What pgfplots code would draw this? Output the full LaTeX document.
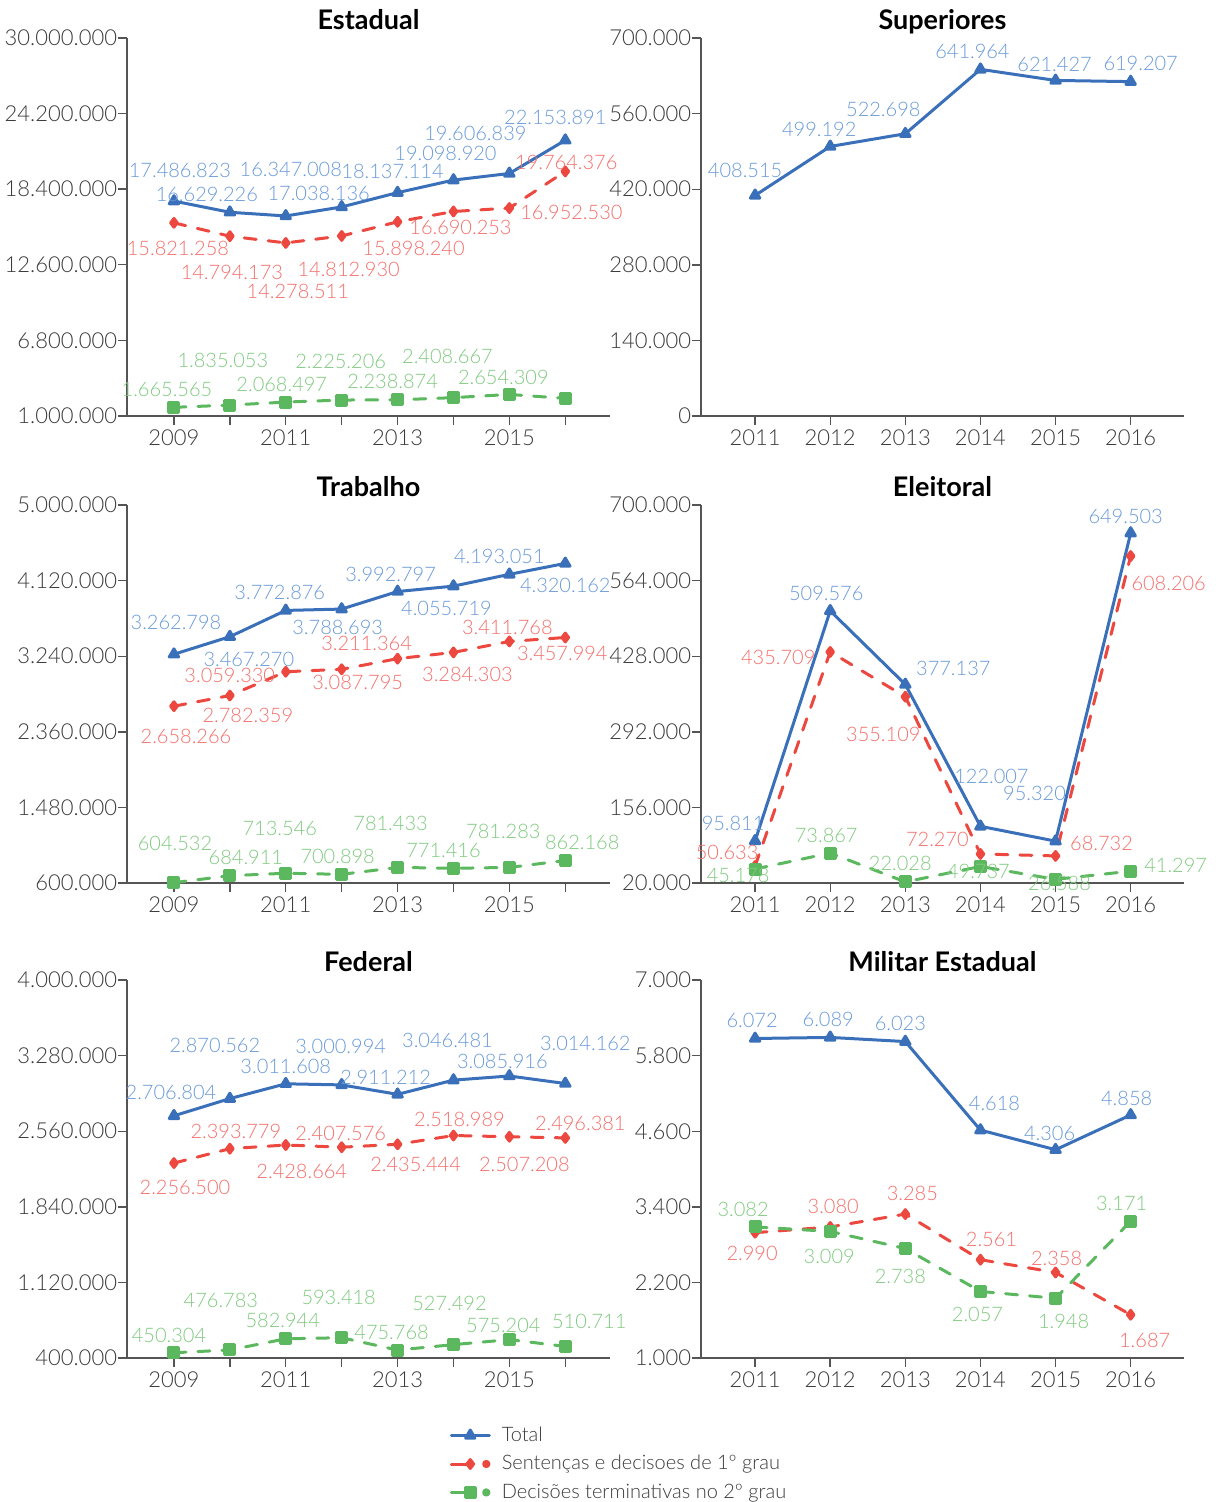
\documentclass[border=0pt]{standalone}
\usepackage{fontspec}
\setmainfont{Lato}[UprightFont={* Light},BoldFont={* Bold}]
\usepackage{pgfplots}
\pgfplotsset{compat=1.18}

\definecolor{blueD}{HTML}{3A70B9}
\definecolor{blueL}{HTML}{6A9AD8}
\definecolor{redD}{HTML}{EC4840}
\definecolor{redL}{HTML}{F3706C}
\definecolor{greenD}{HTML}{5CB85F}
\definecolor{greenL}{HTML}{80CA80}
\definecolor{axgray}{HTML}{555555}
\definecolor{tickgray}{HTML}{3A3A3A}

\newcommand{\tckfont}{\fontsize{11}{12}\selectfont}
\newcommand{\lblfont}{\fontsize{10}{12}\selectfont}

\pgfplotsset{
  panel/.style={
    scale only axis, width=241.5pt, height=189pt,
    anchor=south west,
    axis lines=left, axis line style={-, draw=axgray, line width=0.7pt},
    tick align=outside, major tick length=4.5pt,
    tick style={draw=axgray, line width=0.7pt},
    tick label style={font=\tckfont, text=tickgray},
    yticklabel style={inner xsep=0.3pt},
    xticklabel style={yshift=1.2pt},
    /pgf/number format/assume math mode=true,
    scaled y ticks=false,
    title style={font=\fontsize{13.5}{15}\selectfont\bfseries, at={(0.5,1)}, anchor=base, yshift=-1.75pt},
    clip=false,
    point meta=explicit symbolic,
    nodes near coords,
    visualization depends on={value \thisrow{dx}\as\dx},
    visualization depends on={value \thisrow{dy}\as\dy},
    nodes near coords style={anchor=center, inner sep=0pt, font=\lblfont,
      xshift=\dx*0.5pt, yshift=\dy*0.5pt},
  },
  lcol/.style={panel, xmin=2008.16, xmax=2016.8, xtick={2009,...,2016},
    xticklabels={2009,,2011,,2013,,2015,}},
  rcol/.style={panel, xmin=2010.28, xmax=2016.71, xtick={2011,...,2016},
    xticklabels={2011,2012,2013,2014,2015,2016}},
  tot/.style={color=blueD, line width=1.5pt, line join=round, line cap=round,
    mark=triangle*, mark size=2.7pt, mark options={solid},
    nodes near coords style={text=blueL},
    legend image code/.code={
      \draw[##1, mark=none] (0pt,0pt) -- (19pt,0pt);
      \draw[##1, only marks] plot coordinates {(9.5pt,0pt)};}},
  sen/.style={color=redD, line width=1.5pt, line cap=round, line join=round,
    dash pattern=on 6pt off 6pt,
    mark=diamond*, mark size=2.2pt, mark options={solid},
    nodes near coords style={text=redL},
    legend image code/.code={
      \draw[##1, mark=none, solid] (0pt,0pt) -- (9.5pt,0pt);
      \draw[##1, only marks] plot coordinates {(9.5pt,0pt)};
      \fill[##1, mark=none, solid] (17.5pt,0pt) circle (1.3pt);}},
  dec/.style={color=greenD, line width=1.5pt, line cap=round, line join=round,
    dash pattern=on 6pt off 6pt,
    mark=square*, mark size=2.5pt, mark options={solid},
    nodes near coords style={text=greenL},
    legend image code/.code={
      \draw[##1, mark=none, solid] (0pt,0pt) -- (9.5pt,0pt);
      \draw[##1, only marks] plot coordinates {(9.5pt,0pt)};
      \fill[##1, mark=none, solid] (17.5pt,0pt) circle (1.3pt);}},
}

\begin{document}
\begin{tikzpicture}
\path[use as bounding box] (0pt,0pt) rectangle (607.5pt,-751pt);

% Estadual
\begin{axis}[lcol, at={(63.5pt,-208pt)}, title={Estadual},
  ymin=1000000, ymax=30000000,
  ytick={1000000,6800000,12600000,18400000,24200000,30000000},
  yticklabels={1.000.000,6.800.000,12.600.000,18.400.000,24.200.000,30.000.000}]
\addplot[tot] table[meta=lab]{
x y lab dx dy
2009 17486823 17.486.823 6 31
2010 16629226 16.629.226 -23 18
2011 16347008 16.347.008 5 47
2012 17038136 17.038.136 -23 14
2013 18137114 18.137.114 -5 21
2014 19098920 19.098.920 -8 27
2015 19606839 19.606.839 -34 40
2016 22153891 22.153.891 -10 23
};
\addplot[sen] table[meta=lab]{
x y lab dx dy
2009 15821258 15.821.258 4 -26
2010 14794173 14.794.173 2 -36
2011 14278511 14.278.511 12 -49
2012 14812930 14.812.930 7 -33
2013 15898240 15.898.240 16 -27
2014 16690253 16.690.253 7 -16
2015 16952530 16.952.530 62 -4
2016 19764376 19.764.376 1 9
};
\addplot[dec] table[meta=lab]{
x y lab dx dy
2009 1665565 1.665.565 -7 18
2010 1835053 1.835.053 -7 45
2011 2068497 2.068.497 -4 18
2012 2225206 2.225.206 -1 39
2013 2238874 2.238.874 -5 18
2014 2408667 2.408.667 -6 41
2015 2654309 2.654.309 -6 17
2016 2350000 {} 0 0
};
\end{axis}

% Superiores
\begin{axis}[rcol, at={(350.5pt,-208pt)}, title={Superiores},
  ymin=0, ymax=700000,
  ytick={0,140000,280000,420000,560000,700000},
  yticklabels={0,140.000,280.000,420.000,560.000,700.000}]
\addplot[tot] table[meta=lab]{
x y lab dx dy
2011 408515 408.515 -10 25
2012 499192 499.192 -11 17
2013 522698 522.698 -22 24
2014 641964 641.964 -8 18
2015 621427 621.427 -1 16
2016 619207 619.207 10 18
};
\end{axis}

% Trabalho
\begin{axis}[lcol, at={(63.5pt,-441.5pt)}, title={Trabalho},
  ymin=600000, ymax=5000000,
  ytick={600000,1480000,2360000,3240000,4120000,5000000},
  yticklabels={600.000,1.480.000,2.360.000,3.240.000,4.120.000,5.000.000}]
\addplot[tot] table[meta=lab]{
x y lab dx dy
2009 3262798 3.262.798 2 32
2010 3467270 3.467.270 19 -23
2011 3772876 3.772.876 -6 18
2012 3788693 3.788.693 -4 -18
2013 3992797 3.992.797 -7 17
2014 4055719 4.055.719 -7 -22
2015 4193051 4.193.051 -10 18
2016 4320162 4.320.162 0 -22
};
\addplot[sen] table[meta=lab]{
x y lab dx dy
2009 2658266 2.658.266 12 -30
2010 2782359 2.782.359 18 -20
2011 3059330 3.059.330 -56 -4
2012 3087795 3.087.795 16 -13
2013 3211364 3.211.364 -31 15
2014 3284303 3.284.303 14 -22
2015 3411768 3.411.768 -2 14
2016 3457994 3.457.994 -3 -16
};
\addplot[dec] table[meta=lab]{
x y lab dx dy
2009 604532 604.532 1 39
2010 684911 684.911 16 18
2011 713546 713.546 -6 45
2012 700898 700.898 -4 18
2013 781433 781.433 -7 44
2014 771416 771.416 -10 18
2015 781283 781.283 -6 36
2016 862168 862.168 17 18
};
\end{axis}

% Eleitoral
\begin{axis}[rcol, at={(350.5pt,-441.5pt)}, title={Eleitoral},
  ymin=20000, ymax=700000,
  ytick={20000,156000,292000,428000,564000,700000},
  yticklabels={20.000,156.000,292.000,428.000,564.000,700.000}]
\addplot[tot] table[meta=lab]{
x y lab dx dy
2011 95811 95.811 -22 17
2012 509576 509.576 -4 17
2013 377137 377.137 48 16
2014 122007 122.007 11 50
2015 95320 95.320 -21 48
2016 649503 649.503 -5 17
};
\addplot[sen] table[meta=lab]{
x y lab dx dy
2011 50633 50.633 -28 14
2012 435709 435.709 -52 -6
2013 355109 355.109 -22 -38
2014 72270 72.270 -43 15
2015 68732 68.732 46 12
2016 608206 608.206 38 -27
};
\addplot[dec] table[meta=lab]{
x y lab dx dy
2011 45178 45.178 -17 -6
2012 73867 73.867 -4 18
2013 22028 22.028 -5 18
2014 49737 49.737 -2 -5
2015 26588 26.588 4 -4
2016 41297 41.297 45 6
};
\end{axis}

% Federal
\begin{axis}[lcol, at={(63.5pt,-679pt)}, title={Federal},
  ymin=400000, ymax=4000000,
  ytick={400000,1120000,1840000,2560000,3280000,4000000},
  yticklabels={400.000,1.120.000,1.840.000,2.560.000,3.280.000,4.000.000}]
\addplot[tot] table[meta=lab]{
x y lab dx dy
2009 2706804 2.706.804 -3 23
2010 2870562 2.870.562 -15 53
2011 3011608 3.011.608 0 17
2012 3000994 3.000.994 -1 38
2013 2911212 2.911.212 -12 17
2014 3046481 3.046.481 -6 40
2015 3085916 3.085.916 -7 15
2016 3014162 3.014.162 20 40
};
\addplot[sen] table[meta=lab]{
x y lab dx dy
2009 2256500 2.256.500 11 -24
2010 2393779 2.393.779 6 17
2011 2428664 2.428.664 16 -26
2012 2407576 2.407.576 -1 14
2013 2435444 2.435.444 18 -20
2014 2518989 2.518.989 6 16
2015 2507208 2.507.208 15 -28
2016 2496381 2.496.381 15 14
};
\addplot[dec] table[meta=lab]{
x y lab dx dy
2009 450304 450.304 -5 17
2010 476783 476.783 -9 50
2011 582944 582.944 -3 18
2012 593418 593.418 -3 40
2013 475768 475.768 -6 18
2014 527492 527.492 -4 41
2015 575204 575.204 -6 14
2016 510711 510.711 24 25
};
\end{axis}

% Militar Estadual
\begin{axis}[rcol, at={(350.5pt,-679pt)}, title={Militar Estadual},
  ymin=1000, ymax=7000,
  ytick={1000,2200,3400,4600,5800,7000},
  yticklabels={1.000,2.200,3.400,4.600,5.800,7.000},
  legend style={at={(axis description cs:-0.521,-0.17)}, anchor=north west,
    draw=none, fill=none, font=\lblfont, text=tickgray, inner sep=0pt,
    row sep=1.5pt, column sep=3.5pt},
  legend cell align=left]
\addplot[tot] table[meta=lab]{
x y lab dx dy
2011 6072 6.072 -3 18
2012 6089 6.089 -2 18
2013 6023 6.023 -5 18
2014 4618 4.618 14 27
2015 4306 4.306 -6 16
2016 4858 4.858 -4 17
};
\addlegendentry{Total}
\addplot[sen] table[meta=lab]{
x y lab dx dy
2011 2990 2.990 -3 -21
2012 3080 3.080 3 21
2013 3285 3.285 7 21
2014 2561 2.561 11 20
2015 2358 2.358 1 14
2016 1687 1.687 14 -26
};
\addlegendentry{Sentenças e decisoes de 1º grau}
\addplot[dec] table[meta=lab]{
x y lab dx dy
2011 3082 3.082 -12 17
2012 3009 3.009 -1 -25
2013 2738 2.738 -5 -28
2014 2057 2.057 -3 -23
2015 1948 1.948 8 -23
2016 3171 3.171 -9 18
};
\addlegendentry{Decisões terminativas no 2º grau}
\end{axis}
\end{tikzpicture}
\end{document}
